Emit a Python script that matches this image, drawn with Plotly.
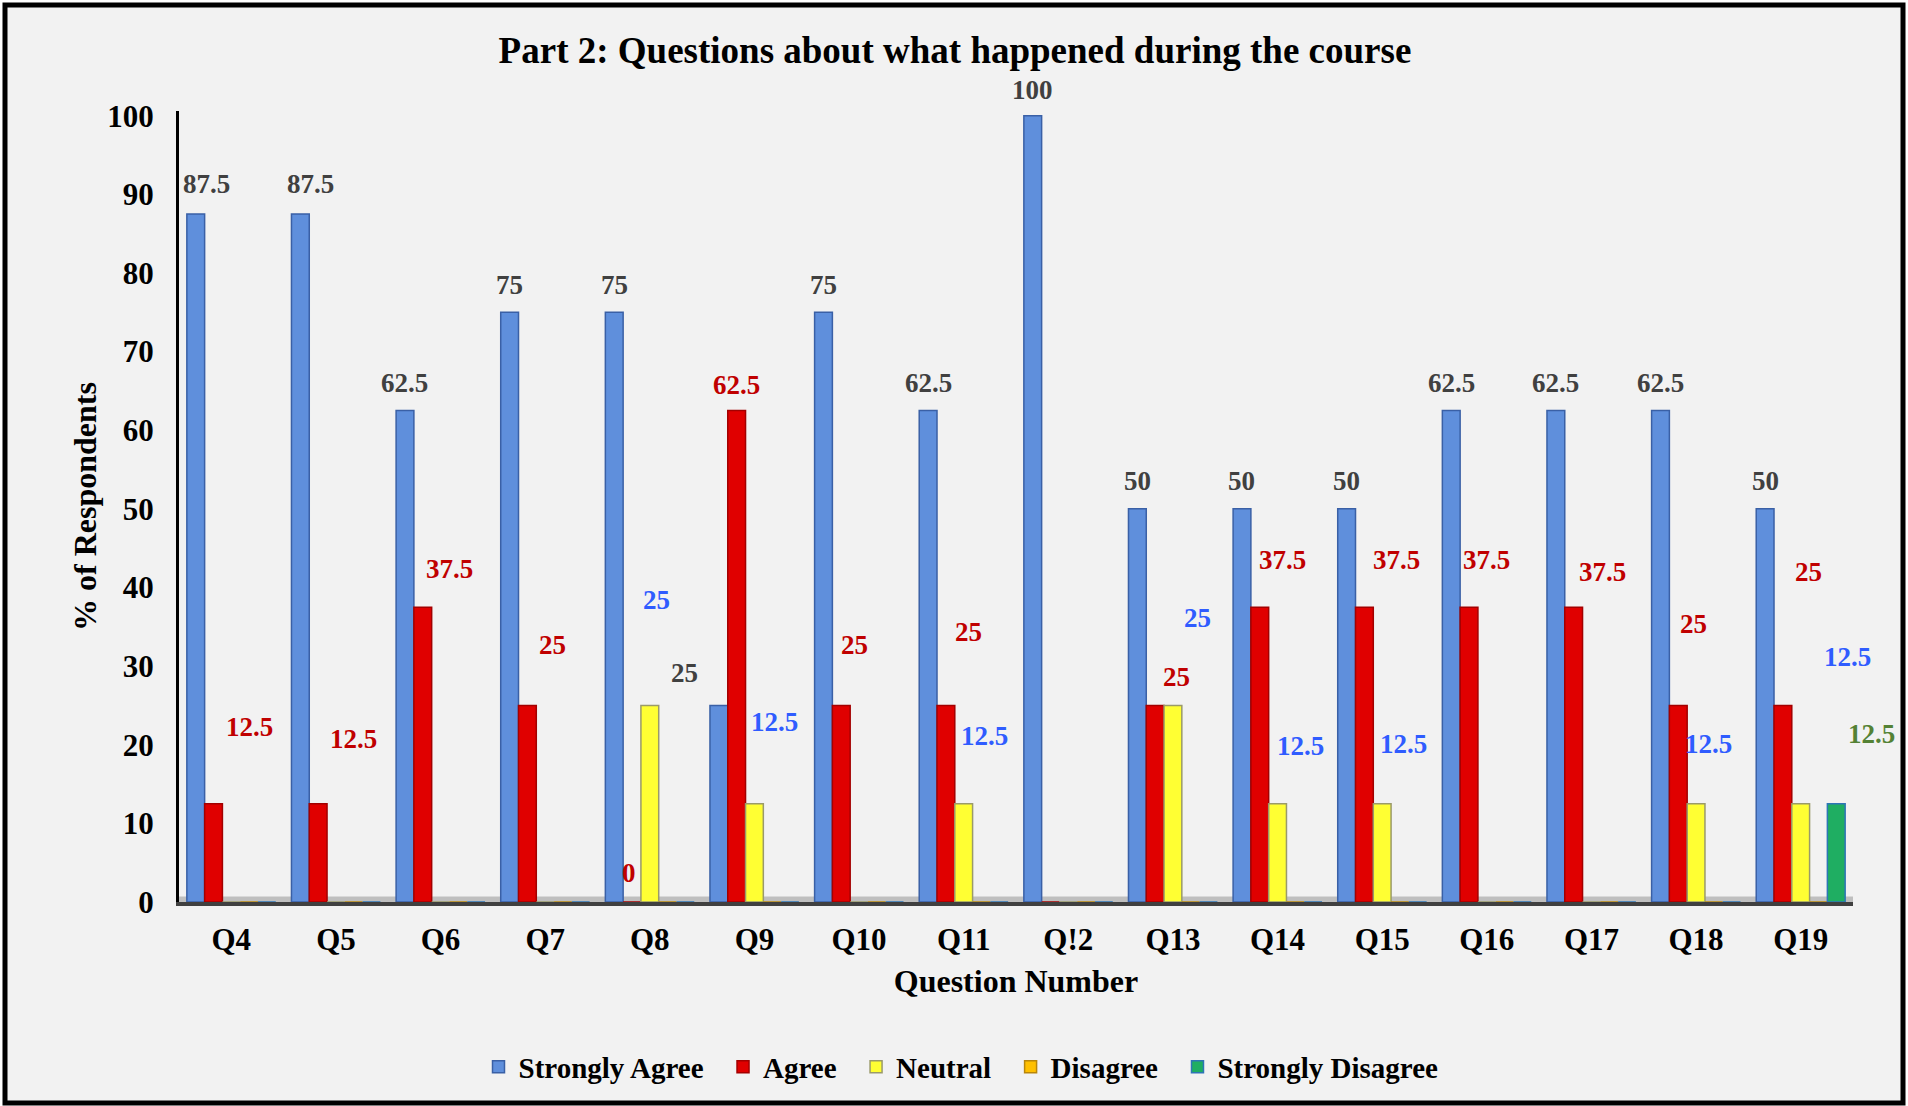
import plotly.graph_objects as go

W, H = 1908, 1106

questions = ["Q4", "Q5", "Q6", "Q7", "Q8", "Q9", "Q10", "Q11", "Q!2",
             "Q13", "Q14", "Q15", "Q16", "Q17", "Q18", "Q19"]
strongly_agree = [87.5, 87.5, 62.5, 75, 75, 25, 75, 62.5, 100, 50, 50, 50, 62.5, 62.5, 62.5, 50]
agree = [12.5, 12.5, 37.5, 25, 0, 62.5, 25, 25, 0, 25, 37.5, 37.5, 37.5, 37.5, 25, 25]
neutral = [0, 0, 0, 0, 25, 12.5, 0, 12.5, 0, 25, 12.5, 12.5, 0, 0, 12.5, 12.5]
disagree = [0, 0, 0, 0, 0, 0, 0, 0, 0, 0, 0, 0, 0, 0, 0, 0]
strongly_disagree = [0, 0, 0, 0, 0, 0, 0, 0, 0, 0, 0, 0, 0, 0, 0, 12.5]

# hand-moved data labels in the original: (label height, sideways nudge in category units)
sa_label_y = [91.3, 91.3, 66, 78.5, 78.5, 29.1, 78.5, 66, 103.3, 53.6, 53.6, 53.6, 66, 66, 66, 53.6]
sa_label_dx = [0.1, 0.1, 0, 0, 0, -0.33, 0, 0, 0, 0, 0, 0, 0, 0, 0, 0]
agree_label_y = [22.3, 20.7, 42.4, 32.7, 3.7, 65.8, 32.7, 34.4, None, 28.6, 43.5, 43.5, 43.5, 42.0, 35.3, 42.0]
agree_label_dx = [0.34, 0.34, 0.26, 0.24, -0.03, 0, 0.13, 0.22, None, 0.2, 0.22, 0.31, 0.17, 0.28, 0.15, 0.24]
neutral_label_y = [None, None, None, None, 38.4, 22.9, None, 21.1, None, 36.1, 19.8, 20.1, None, None, 20.1, 31.1]
neutral_label_dx = [None, None, None, None, 0.06, 0.19, None, 0.2, None, 0.23, 0.22, 0.2, None, None, 0.12, 0.45]
sd_label_y = [None] * 15 + [21.4]
sd_label_dx = [None] * 15 + [0.34]

series = [
    ("Strongly Agree", strongly_agree, "#5f8fdc", "#3a60a6", "#404040", sa_label_y, sa_label_dx),
    ("Agree", agree, "#e00000", "#a30000", "#c00000", agree_label_y, agree_label_dx),
    ("Neutral", neutral, "#ffff33", "#9a9a6a", "#2f5cff", neutral_label_y, neutral_label_dx),
    ("Disagree", disagree, "#ffc000", "#b8860b", "#404040", [None] * 16, [None] * 16),
    ("Strongly Disagree", strongly_disagree, "#1fae62", "#2e75b6", "#548235", sd_label_y, sd_label_dx),
]

L, R, T, B = 179, 55, 111, 204
pw, ph = W - L - R, H - T - B
y_top = 100.6
x_max = len(questions) - 0.5
px_per_unit = ph / y_top
px_per_cat = pw / len(questions)
bargap = 0.15
bar_w = (1 - bargap) / len(series)
font = "Liberation Serif"
legend_pad = "\u00a0\u00a0"

fig = go.Figure()
annotations = []
for i, (name, vals, col, edge, lab_col, lab_y, lab_dx) in enumerate(series):
    shown = name if i == len(series) - 1 else name + legend_pad
    fig.add_bar(x=questions, y=vals, name=shown,
                marker=dict(color=col, line=dict(color=edge, width=1.5)))
    off = (i - (len(series) - 1) / 2) * bar_w
    for k, v in enumerate(vals):
        if lab_y[k] is None:
            continue
        # labels outside the axis ranges would be hidden, so pin and shift them
        lx = k + off + lab_dx[k]
        ly = lab_y[k]
        ax, ay = min(lx, x_max), min(ly, y_top)
        annotations.append(dict(
            x=ax, y=ay, xref="x", yref="y",
            xshift=(lx - ax) * px_per_cat, yshift=(ly - ay) * px_per_unit,
            text=f"{v:g}", showarrow=False,
            font=dict(family=font, size=27, color=lab_col, weight="bold"),
        ))


def px_x(p):
    return (p - L) / pw


def px_y(p):
    return (H - p - B) / ph


shapes = [
    # outer frame
    dict(type="rect", xref="paper", yref="paper", layer="below",
         x0=px_x(5), x1=px_x(1903), y0=px_y(1103), y1=px_y(5),
         line=dict(color="black", width=5), fillcolor="#f2f2f2"),
    # chart floor
    dict(type="rect", xref="paper", yref="y", layer="below",
         x0=0, x1=1, y0=0, y1=0.7, line_width=0, fillcolor="#bfbfbf"),
]

fig.update_layout(
    width=W, height=H,
    margin=dict(l=L, r=R, t=T, b=B),
    paper_bgcolor="white",
    plot_bgcolor="#f2f2f2",
    barmode="group",
    bargap=bargap,
    bargroupgap=0,
    font=dict(family=font, color="black"),
    title=dict(text="Part 2: Questions about what happened during the course",
               x=955 / W, xref="container", xanchor="center",
               y=1 - 50 / H, yref="container", yanchor="middle",
               font=dict(family=font, size=37, color="black", weight="bold")),
    legend=dict(orientation="h", x=px_x(961), xanchor="center",
                y=px_y(1067), yanchor="middle",
                font=dict(family=font, size=29, color="black", weight="bold"),
                bgcolor="rgba(0,0,0,0)", traceorder="normal"),
    annotations=annotations,
    shapes=shapes,
)
fig.update_xaxes(
    range=[-0.5, x_max],
    showline=True, linecolor="#404040", linewidth=4,
    showgrid=False, ticks="", ticklabelstandoff=7,
    tickfont=dict(family=font, size=31, color="black", weight="bold"),
    title=dict(text="Question Number", standoff=14,
               font=dict(family=font, size=32, color="black", weight="bold")),
)
fig.update_yaxes(
    range=[0, y_top], dtick=10, tickformat="d",
    showline=True, linecolor="black", linewidth=3,
    showgrid=False, zeroline=False, ticks="", ticklabelstandoff=16,
    tickfont=dict(family=font, size=31, color="black", weight="bold"),
    title=dict(text="% of Respondents", standoff=2,
               font=dict(family=font, size=32, color="black", weight="bold")),
)

fig.write_html("out.html", config={"displayModeBar": False},
               post_script="document.body.style.margin='0';")
